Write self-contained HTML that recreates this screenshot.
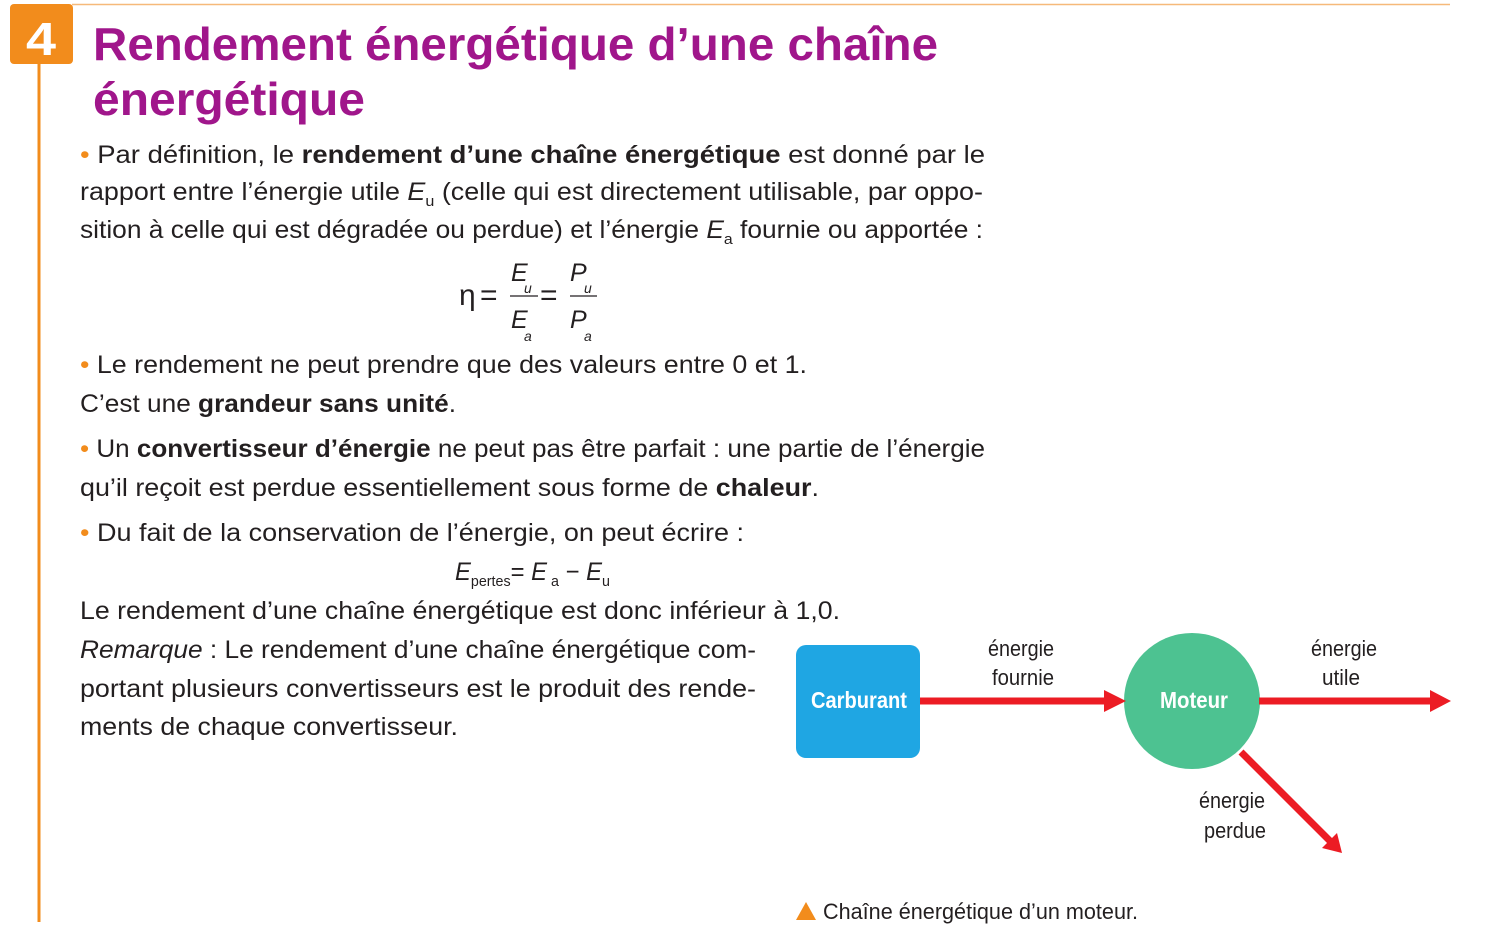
<!DOCTYPE html>
<html><head><meta charset="utf-8"><style>
html,body{margin:0;padding:0;background:#fff;width:1497px;height:940px;overflow:hidden}
svg{display:block}
text{font-family:"Liberation Sans",sans-serif;fill:#231f20}
.t{font-size:25px}
.b{font-weight:bold}
.o{fill:#f28c1c}
.ttl{font-size:46px;font-weight:bold;fill:#a0168b}
.n{font-family:"Liberation Sans Narrow","Liberation Sans",sans-serif;font-size:22px}
</style></head><body>
<svg width="1497" height="940" viewBox="0 0 1497 940" xmlns="http://www.w3.org/2000/svg">
<line x1="72" y1="4.5" x2="1450" y2="4.5" stroke="#f6b97a" stroke-width="1.5"/>
<rect x="10" y="4" width="63" height="60" rx="4" fill="#f28c1c"/>
<text x="41" y="55" text-anchor="middle" style="font-size:46px;fill:#fff;font-weight:bold" textLength="30" lengthAdjust="spacingAndGlyphs">4</text>
<line x1="39" y1="64" x2="39" y2="922" stroke="#f28c1c" stroke-width="3"/>
<text class="ttl" x="93" y="60" textLength="845" lengthAdjust="spacingAndGlyphs">Rendement énergétique d’une chaîne</text>
<text class="ttl" x="93" y="115" textLength="272" lengthAdjust="spacingAndGlyphs">énergétique</text>

<text class="t" x="80" y="163" textLength="905" lengthAdjust="spacingAndGlyphs"><tspan class="o">•</tspan> Par définition, le <tspan class="b">rendement d’une chaîne énergétique</tspan> est donné par le</text>
<text class="t" x="80" y="200" textLength="903" lengthAdjust="spacingAndGlyphs">rapport entre l’énergie utile <tspan font-style="italic">E</tspan><tspan font-size="15" dy="6">u</tspan><tspan dy="-6"> (celle qui est directement utilisable, par oppo-</tspan></text>
<text class="t" x="80" y="238" textLength="903" lengthAdjust="spacingAndGlyphs">sition à celle qui est dégradée ou perdue) et l’énergie <tspan font-style="italic">E</tspan><tspan font-size="15" dy="6">a</tspan><tspan dy="-6"> fournie ou apportée :</tspan></text>

<text class="t" x="459" y="305" style="font-size:30px">η</text>
<text class="t" x="480" y="305" style="font-size:30px">=</text>
<text class="t" x="511" y="281" font-style="italic">E</text>
<text x="524" y="293" font-size="14" font-style="italic">u</text>
<line x1="510" y1="296" x2="538" y2="296" stroke="#231f20" stroke-width="1.2"/>
<text class="t" x="540" y="305" style="font-size:30px">=</text>
<text class="t" x="511" y="328" font-style="italic">E</text>
<text x="524" y="341" font-size="14" font-style="italic">a</text>
<text class="t" x="570" y="281" font-style="italic">P</text>
<text x="584" y="293" font-size="14" font-style="italic">u</text>
<line x1="570" y1="296" x2="597" y2="296" stroke="#231f20" stroke-width="1.2"/>
<text class="t" x="570" y="328" font-style="italic">P</text>
<text x="584" y="341" font-size="14" font-style="italic">a</text>

<text class="t" x="80" y="373" textLength="727" lengthAdjust="spacingAndGlyphs"><tspan class="o">•</tspan> Le rendement ne peut prendre que des valeurs entre 0 et 1.</text>
<text class="t" x="80" y="412" textLength="376" lengthAdjust="spacingAndGlyphs">C’est une <tspan class="b">grandeur sans unité</tspan>.</text>
<text class="t" x="80" y="457" textLength="905" lengthAdjust="spacingAndGlyphs"><tspan class="o">•</tspan> Un <tspan class="b">convertisseur d’énergie</tspan> ne peut pas être parfait : une partie de l’énergie</text>
<text class="t" x="80" y="496" textLength="739" lengthAdjust="spacingAndGlyphs">qu’il reçoit est perdue essentiellement sous forme de <tspan class="b">chaleur</tspan>.</text>
<text class="t" x="80" y="541" textLength="664" lengthAdjust="spacingAndGlyphs"><tspan class="o">•</tspan> Du fait de la conservation de l’énergie, on peut écrire :</text>
<text class="t" x="455" y="580" textLength="155" lengthAdjust="spacingAndGlyphs"><tspan font-style="italic">E</tspan><tspan font-size="15" dy="6">pertes</tspan><tspan dy="-6">= </tspan><tspan font-style="italic">E</tspan><tspan font-size="15" dy="6"> a</tspan><tspan dy="-6"> − </tspan><tspan font-style="italic">E</tspan><tspan font-size="15" dy="6">u</tspan></text>
<text class="t" x="80" y="619" textLength="760" lengthAdjust="spacingAndGlyphs">Le rendement d’une chaîne énergétique est donc inférieur à 1,0.</text>
<text class="t" x="80" y="658" textLength="676" lengthAdjust="spacingAndGlyphs"><tspan font-style="italic">Remarque</tspan> : Le rendement d’une chaîne énergétique com-</text>
<text class="t" x="80" y="697" textLength="676" lengthAdjust="spacingAndGlyphs">portant plusieurs convertisseurs est le produit des rende-</text>
<text class="t" x="80" y="735" textLength="378" lengthAdjust="spacingAndGlyphs">ments de chaque convertisseur.</text>

<!-- diagram -->
<rect x="796" y="645" width="124" height="113" rx="10" fill="#1fa6e3"/>
<text class="n b" x="859" y="708" text-anchor="middle" style="fill:#fff;font-size:23px" textLength="96" lengthAdjust="spacingAndGlyphs">Carburant</text>
<circle cx="1192" cy="701" r="68" fill="#4dc291"/>
<line x1="920" y1="701" x2="1108" y2="701" stroke="#ec1c24" stroke-width="7"/>
<polygon points="1104,690 1126,701 1104,712" fill="#ec1c24"/>
<line x1="1259" y1="701" x2="1433" y2="701" stroke="#ec1c24" stroke-width="7"/>
<polygon points="1430,690 1451,701 1430,712" fill="#ec1c24"/>
<line x1="1241" y1="752" x2="1330" y2="841" stroke="#ec1c24" stroke-width="7"/>
<polygon points="1322,848 1342,853 1337,833" fill="#ec1c24"/>
<text class="n b" x="1194" y="708" text-anchor="middle" style="fill:#fff;font-size:23px" textLength="68" lengthAdjust="spacingAndGlyphs">Moteur</text>
<text class="n" x="988" y="656" textLength="66" lengthAdjust="spacingAndGlyphs">énergie</text>
<text class="n" x="992" y="685" textLength="62" lengthAdjust="spacingAndGlyphs">fournie</text>
<text class="n" x="1311" y="656" textLength="66" lengthAdjust="spacingAndGlyphs">énergie</text>
<text class="n" x="1322" y="685" textLength="38" lengthAdjust="spacingAndGlyphs">utile</text>
<text class="n" x="1199" y="808" textLength="66" lengthAdjust="spacingAndGlyphs">énergie</text>
<text class="n" x="1204" y="838" textLength="62" lengthAdjust="spacingAndGlyphs">perdue</text>
<polygon points="796,920 806,902 816,920" fill="#f28c1c"/>
<text class="t" x="823" y="919" style="font-size:22px" textLength="315" lengthAdjust="spacingAndGlyphs">Chaîne énergétique d’un moteur.</text>
</svg>
</body></html>
